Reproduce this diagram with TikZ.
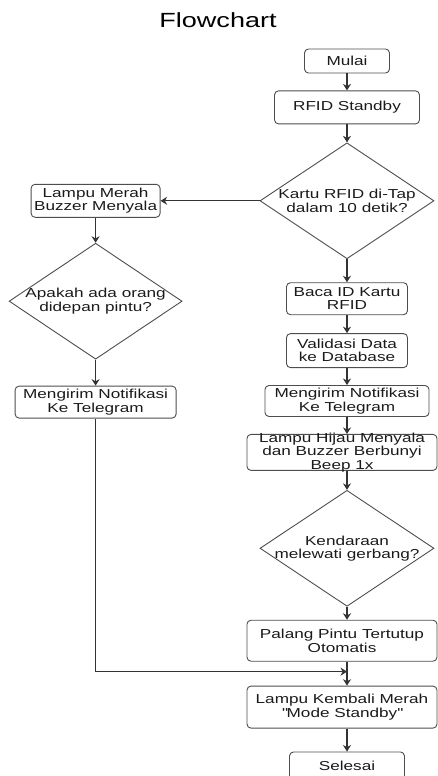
\documentclass[tikz,border=0pt]{standalone}
\usepackage{fontspec}
\setmainfont{Liberation Sans}[FakeStretch=1.32]
\usetikzlibrary{shapes.geometric, arrows.meta, positioning}
\definecolor{linegray}{HTML}{333333}
\definecolor{boxgray}{HTML}{4D4D4D}
\definecolor{textgray}{HTML}{1A1A1A}

\begin{document}
\begin{tikzpicture}[x=1pt, y=1pt,
  font=\fontsize{13pt}{13.3pt}\selectfont,
  procbox/.style={rectangle, rounded corners=4pt, draw=boxgray, line width=0.9pt, inner sep=2pt, align=center, text=textgray},
  decide/.style={diamond, shape aspect=1.5, minimum width=174pt, minimum height=116pt, inner sep=-8pt, draw=boxgray, line width=0.9pt, align=center, text=textgray},
  flow/.style={draw=linegray, line width=1.1pt, -{Stealth[length=6.5pt, width=8pt]}}]
\useasboundingbox (0,0) rectangle (437,-776);

% title
\node (title) at (218,-20) {\fontsize{20.5pt}{24pt}\selectfont Flowchart};

% main column
\node (start) [procbox, minimum width=85pt, minimum height=24pt] at (347,-61) {Mulai};
\node (standby) [procbox, minimum width=145pt, minimum height=33pt, below=17pt of start] {RFID Standby};
\node (tapq) [decide, below=18pt of standby] {Kartu RFID di-Tap\\dalam 10 detik?};
\node (readid) [procbox, minimum width=121pt, minimum height=32pt, below=23pt of tapq] {Baca ID Kartu\\RFID};
\node (validate) [procbox, minimum width=121pt, minimum height=34pt, below=18pt of readid] {Validasi Data\\ke Database};
\node (notifright) [procbox, minimum width=164pt, minimum height=31pt, below=17pt of validate] {Mengirim Notifikasi\\Ke Telegram};
\node (greenlamp) [procbox, minimum width=190pt, minimum height=36pt, inner ysep=-2pt, below=17pt of notifright, xshift=-5pt] {Lampu Hijau Menyala\\dan Buzzer Berbunyi\\Beep 1x};
\node (gateq) [decide, below=19pt of greenlamp, xshift=5pt] {Kendaraan\\melewati gerbang?};
\node (closegate) [procbox, minimum width=190pt, minimum height=41pt, below=13pt of gateq, xshift=-5pt] {Palang Pintu Tertutup\\Otomatis};
\node (redagain) [procbox, minimum width=190pt, minimum height=42pt, below=24pt of closegate] {Lampu Kembali Merah\\\textquotedbl Mode Standby\textquotedbl};
\node (finish) [procbox, minimum width=115pt, minimum height=28pt, below=23pt of redagain, xshift=5pt] {Selesai};

% left branch
\node (redbuzz) [procbox, minimum width=129pt, minimum height=33pt, left=99pt of tapq] {Lampu Merah\\Buzzer Menyala};
\node (personq) [decide, minimum width=173pt, below=25pt of redbuzz] {Apakah ada orang\\didepan pintu?};
\node (notifleft) [procbox, minimum width=161pt, minimum height=32pt, below=26pt of personq] {Mengirim Notifikasi\\Ke Telegram};

\node (join) [coordinate, below=10pt of closegate.south, xshift=5pt] {};

% connectors
\draw[flow] (start) -- (standby);
\draw[flow] (standby) -- (tapq);
\draw[flow] (tapq.west) -- (redbuzz.east);
\draw[flow] (tapq) -- (readid);
\draw[flow] (readid) -- (validate);
\draw[flow] (validate) -- (notifright);
\draw[flow] (notifright.south) -- (notifright.south |- greenlamp.north);
\draw[flow] (greenlamp.south -| gateq.north) -- (gateq.north);
\draw[flow] (gateq.south) -- (gateq.south |- closegate.north);
\draw[draw=linegray, line width=1.1pt] (closegate.south -| join) -- (join);
\draw[flow] (join) -- (join |- redagain.north);
\draw[flow] (redagain.south -| finish.north) -- (finish.north);
\draw[flow] (redbuzz) -- (personq);
\draw[flow] (personq) -- (notifleft);
\draw[flow] (notifleft.south) |- (join);

\end{tikzpicture}
\end{document}
